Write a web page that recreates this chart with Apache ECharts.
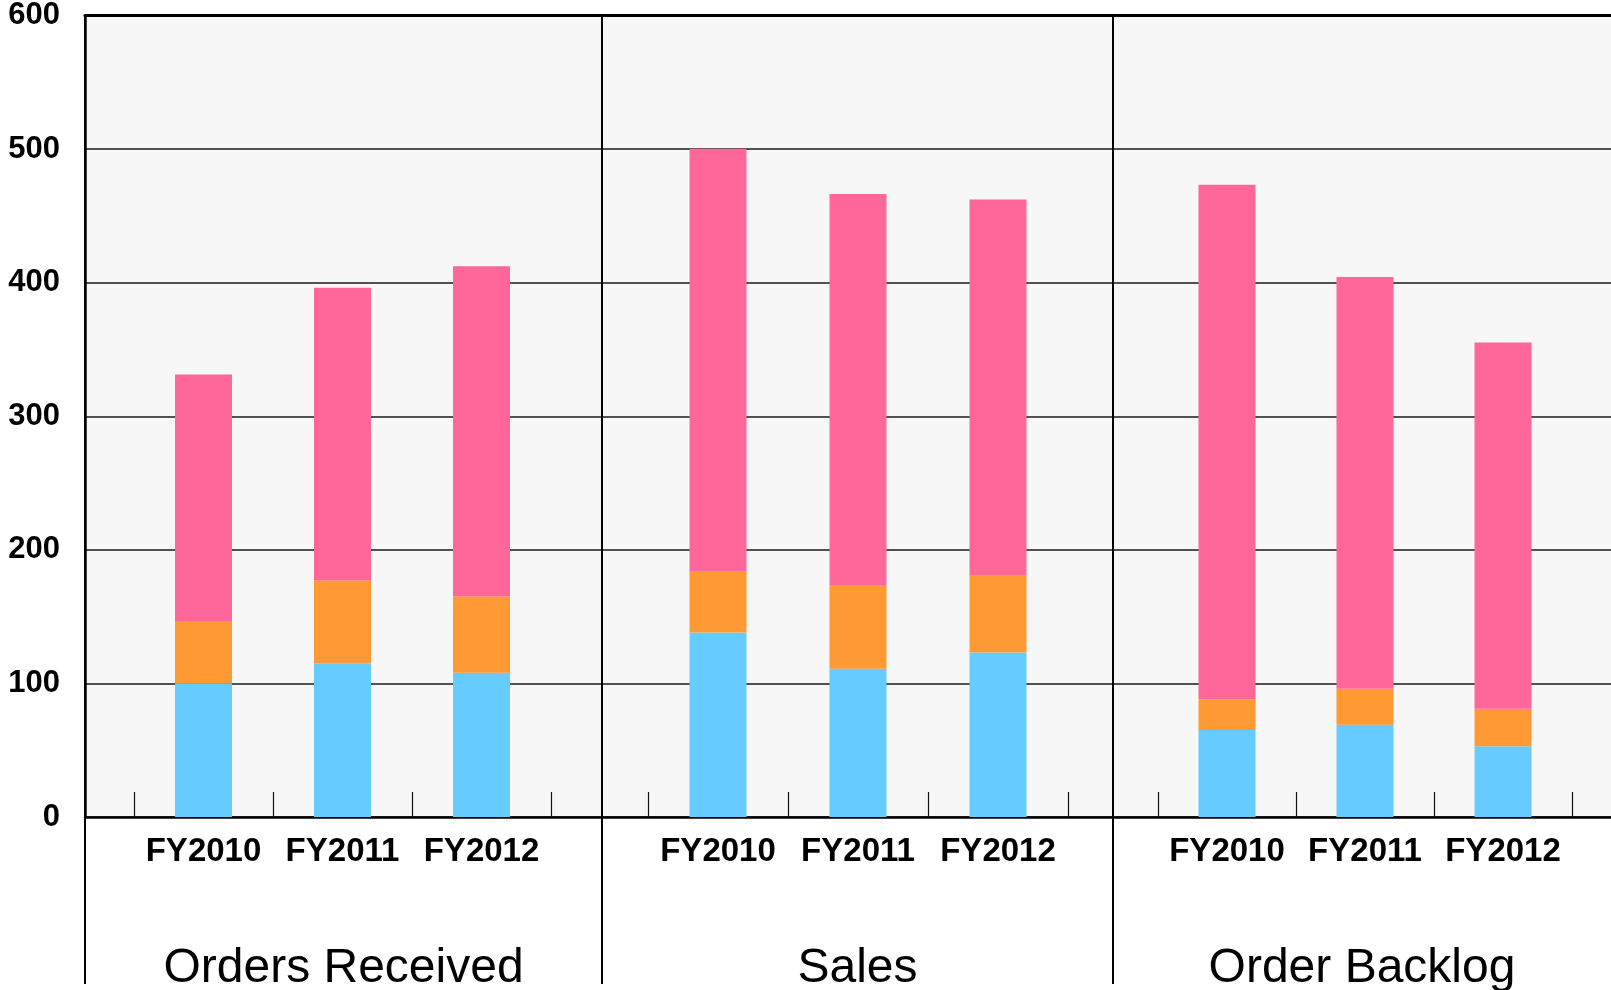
<!DOCTYPE html>
<html>
<head>
<meta charset="utf-8">
<script src="https://cdn.jsdelivr.net/npm/echarts@6/dist/echarts.min.js"></script>
<style>
html,body{margin:0;padding:0;background:#fff;}
#chart{width:1611px;height:990px;}
</style>
</head>
<body>
<div id="chart"></div>
<script>
// ---- data ----
const categories = ['FY2010', 'FY2011', 'FY2012'];
const groups = ['Orders Received', 'Sales', 'Order Backlog'];
const ordersBlue   = [100, 115, 108];
const ordersOrange = [46, 62, 57];
const ordersPink   = [185, 219, 247];
const salesBlue    = [138, 111, 123];
const salesOrange  = [46, 62, 58];
const salesPink    = [316, 293, 281];
const backlogBlue   = [65, 69, 53];
const backlogOrange = [23, 27, 28];
const backlogPink   = [385, 308, 274];
const yMin = 0, yMax = 600, yStep = 100;

// ---- layout ----
const FONT = '"Liberation Sans", Arial, sans-serif';
const plotLeft = 85, plotTop = 15, plotBottomY = 817, H = 990;
const sepX = [85, 602, 1113];
const panelRight = [602, 1113, 1611];
const catAxes = [[134, 551], [648, 1068], [1158, 1572]];
const colors = {blue: '#66ccff', orange: '#ff9933', pink: '#ff6699'};
const seriesData = [
  [ordersBlue, ordersOrange, ordersPink],
  [salesBlue, salesOrange, salesPink],
  [backlogBlue, backlogOrange, backlogPink]
];

const chart = echarts.init(document.getElementById('chart'));

const grids = [{left: plotLeft, right: 0, top: plotTop, bottom: H - plotBottomY,
  show: true, backgroundColor: '#f7f7f7', borderWidth: 0}];
const xAxes = [
  {gridIndex: 0, type: 'value', min: 0, max: 1, position: 'bottom',
   axisLine: {show: true, lineStyle: {color: '#000', width: 2.5}},
   axisTick: {show: false}, axisLabel: {show: false}, splitLine: {show: false}},
  {gridIndex: 0, type: 'value', min: 0, max: 1, position: 'top',
   axisLine: {show: true, lineStyle: {color: '#000', width: 3}},
   axisTick: {show: false}, axisLabel: {show: false}, splitLine: {show: false}}
];
const yAxes = [
  {gridIndex: 0, type: 'value', min: yMin, max: yMax, interval: yStep,
   axisLine: {show: true, lineStyle: {color: '#000', width: 2.5}},
   axisTick: {show: false},
   axisLabel: {margin: 25, color: '#000', fontSize: 31, fontWeight: 'bold', fontFamily: FONT},
   splitLine: {show: true, lineStyle: {color: '#1a1a1a', width: 1.5}}}
];
const series = [];
const titles = [];
const names = ['blue', 'orange', 'pink'];

for (let g = 0; g < 3; g++) {
  const gi = g + 1;
  grids.push({left: catAxes[g][0], width: catAxes[g][1] - catAxes[g][0],
    top: plotTop, bottom: H - plotBottomY});
  xAxes.push({gridIndex: gi, type: 'category', data: categories, boundaryGap: true,
    axisLine: {show: false},
    axisTick: {show: true, inside: true, length: 25, interval: 0,
      lineStyle: {color: '#111', width: 1.2}},
    axisLabel: {interval: 0, margin: 18, color: '#000', fontSize: 33,
      fontWeight: 'bold', fontFamily: FONT},
    splitLine: {show: false}});
  yAxes.push({gridIndex: gi, type: 'value', min: yMin, max: yMax, interval: yStep,
    show: false, splitLine: {show: false}});
  for (let s = 0; s < 3; s++) {
    series.push({type: 'bar', name: groups[g] + ' ' + names[s],
      xAxisIndex: gi + 1, yAxisIndex: gi, stack: 'g' + g,
      barWidth: 57, data: seriesData[g][s],
      itemStyle: {color: colors[names[s]]}, z: 3});
  }
  titles.push({text: groups[g], left: (sepX[g] + panelRight[g]) / 2, top: 945,
    textAlign: 'center', padding: 0,
    textStyle: {fontSize: 48, fontWeight: 'normal', color: '#000', fontFamily: FONT}});
}

const graphics = sepX.map(x => ({type: 'line', z: 100,
  shape: {x1: x, y1: plotTop, x2: x, y2: 984},
  style: {stroke: '#000', lineWidth: 2}}));

chart.setOption({
  animation: false,
  backgroundColor: '#fff',
  title: titles,
  grid: grids,
  xAxis: xAxes,
  yAxis: yAxes,
  series: series,
  graphic: graphics
});
</script>
</body>
</html>
